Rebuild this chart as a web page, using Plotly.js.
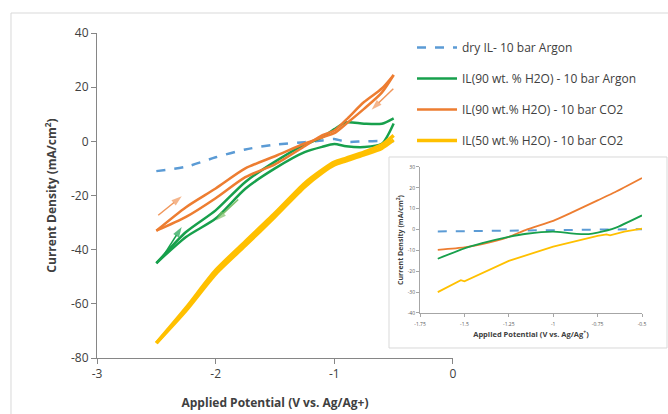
<!DOCTYPE html>
<html>
<head>
<meta charset="utf-8">
<script src="https://cdn.plot.ly/plotly-3.0.1.min.js"></script>
<style>html,body{margin:0;padding:0;background:#fff;}#chart{width:668px;height:414px;}</style>
</head>
<body>
<div id="chart"></div>
<script>
// ---- main chart data (potential grid in V vs Ag/Ag+) ----
const potential = [-2.5, -2.25, -2.0, -1.75, -1.5, -1.25, -1.1, -1.0, -0.9, -0.75, -0.6, -0.5];
const dryArgon = [-11, -9.4, -5.9, -3.0, -1.2, -0.3, 0.3, 0.9, -0.2, 0.0, 0.1, 0.0];
const h2o90ArgonFwd = [-45, -33.5, -25.5, -15, -7.5, -1.2, 1.5, 4.5, 7.0, 6.5, 6.5, 8.5];
const h2o90ArgonRev = [-45, -35.3, -28.5, -17.5, -10, -4, -2, -1, -1.8, -2.1, -0.9, 6.6];
const h2o90CO2Fwd = [-33, -24.3, -17.4, -10, -5.5, -0.8, 1.5, 3.0, 6.5, 12, 18, 24.5];
const h2o90CO2Rev = [-33, -27.9, -21, -13.2, -8.5, -1.8, 2.3, 4.0, 8.0, 14.5, 19.5, 24.5];
const h2o50CO2Fwd = [-74.5, -61.5, -47.6, -37, -26.5, -15.5, -10.5, -7.7, -6.2, -4.0, -1.3, 2.2];
const h2o50CO2Rev = [-74.5, -62.5, -49, -38.5, -27.8, -16.8, -11.5, -8.7, -7.2, -5.0, -2.6, 0.5];
const mainYTicks = [-80, -60, -40, -20, 0, 20, 40];
const mainXTicks = [-3, -2, -1, 0];

// ---- scan-direction arrows (tail -> head, data coordinates) ----
const arrowTailX = [-2.484, -0.503, -1.81, -2.427];
const arrowTailY = [-27.3, 19.4, -21.5, -41.3];
const arrowHeadX = [-2.286, -0.686, -1.998, -2.286];
const arrowHeadY = [-20.3, 11.7, -29.2, -31.6];

// ---- inset data ----
const insetDryX = [-1.65, -1.25, -1.0, -0.75, -0.5];
const insetDryY = [-0.9, -0.5, -0.3, -0.1, 0.2];
const insetGreenX = [-1.65, -1.5, -1.4, -1.25, -1.15, -1.0, -0.9, -0.8, -0.75, -0.65, -0.5];
const insetGreenY = [-14, -9, -6.5, -3.5, -2, -1, -1.8, -2.2, -1.5, 0.8, 6.8];
const insetOrangeX = [-1.65, -1.5, -1.4, -1.25, -1.15, -1.0, -0.9, -0.75, -0.65, -0.5];
const insetOrangeY = [-9.7, -8.5, -7, -3.5, 0, 4.2, 8, 14, 18, 24.7];
const insetYellowX = [-1.65, -1.55, -1.52, -1.5, -1.4, -1.25, -1.0, -0.85, -0.75, -0.7, -0.68, -0.6, -0.5];
const insetYellowY = [-30, -25.5, -24.3, -24.8, -21, -15, -8.2, -5, -3, -2.3, -2.8, -1, 0.5];
const insetYTicks = [-40, -30, -20, -10, 0, 10, 20, 30];
const insetXTicks = [-1.75, -1.5, -1.25, -1, -0.75, -0.5];

const seriesNames = ['dry IL- 10 bar Argon', 'IL(90 wt. % H2O) - 10 bar Argon', 'IL(90 wt.% H2O) - 10 bar CO2', 'IL(50 wt.% H2O) - 10 bar CO2'];

const cBlue = '#5b9bd5', cGreen = '#17a04c', cOrange = '#ed7d31', cYellow = '#ffc000';
const arrowColors = ['#f0965a', '#f0965a', '#7fbf6a', cGreen];

const sm = 0.7;
const traces = [
  {x: potential, y: dryArgon, name: seriesNames[0], legendgroup: 'a', mode: 'lines', line: {color: cBlue, width: 2.5, dash: 'dash', shape: 'spline', smoothing: sm}},
  {x: potential, y: h2o90ArgonFwd, name: seriesNames[1], legendgroup: 'b', mode: 'lines', line: {color: cGreen, width: 2.5, shape: 'spline', smoothing: sm}},
  {x: potential, y: h2o90ArgonRev, name: seriesNames[1], legendgroup: 'b', showlegend: false, mode: 'lines', line: {color: cGreen, width: 2.5, shape: 'spline', smoothing: sm}},
  {x: potential, y: h2o90CO2Fwd, name: seriesNames[2], legendgroup: 'c', mode: 'lines', line: {color: cOrange, width: 2.5, shape: 'spline', smoothing: sm}},
  {x: potential, y: h2o90CO2Rev, name: seriesNames[2], legendgroup: 'c', showlegend: false, mode: 'lines', line: {color: cOrange, width: 2.5, shape: 'spline', smoothing: sm}},
  {x: potential, y: h2o50CO2Fwd, name: seriesNames[3], legendgroup: 'd', mode: 'lines', line: {color: cYellow, width: 3.5, shape: 'spline', smoothing: sm}},
  {x: potential, y: h2o50CO2Rev, name: seriesNames[3], legendgroup: 'd', showlegend: false, mode: 'lines', line: {color: cYellow, width: 3.5, shape: 'spline', smoothing: sm}},
  {x: insetDryX, y: insetDryY, xaxis: 'x2', yaxis: 'y2', showlegend: false, mode: 'lines', line: {color: cBlue, width: 2, dash: 'dash'}},
  {x: insetOrangeX, y: insetOrangeY, xaxis: 'x2', yaxis: 'y2', showlegend: false, mode: 'lines', line: {color: cOrange, width: 1.8, shape: 'spline', smoothing: 0.5}},
  {x: insetGreenX, y: insetGreenY, xaxis: 'x2', yaxis: 'y2', showlegend: false, mode: 'lines', line: {color: cGreen, width: 1.8, shape: 'spline', smoothing: 0.5}},
  {x: insetYellowX, y: insetYellowY, xaxis: 'x2', yaxis: 'y2', showlegend: false, mode: 'lines', line: {color: cYellow, width: 1.8}}
];

arrowTailX.forEach(function (tx, i) {
  traces.push({
    x: [tx, arrowHeadX[i]], y: [arrowTailY[i], arrowHeadY[i]], mode: 'lines+markers', showlegend: false,
    line: {color: arrowColors[i], width: 1.5},
    marker: {symbol: ['circle', 'arrow'], size: [0, 11], color: arrowColors[i], angleref: 'previous', line: {width: 0}}
  });
});

const fontFam = '"Open Sans", "DejaVu Sans", sans-serif';
const txt = function (v) { return String(v); };

const layout = {
  width: 668, height: 414,
  margin: {l: 97, r: 26, t: 33, b: 56},
  paper_bgcolor: '#ffffff', plot_bgcolor: 'rgba(0,0,0,0)',
  font: {family: fontFam, color: '#404040', size: 12},
  showlegend: true,
  legend: {x: 0.578, xanchor: 'left', y: 1.0, yanchor: 'top', bgcolor: 'rgba(0,0,0,0)',
    font: {size: 12, color: '#404040'}, traceorder: 'grouped', tracegroupgap: 12, itemwidth: 40},
  xaxis: {domain: [0, 0.6532], range: [-3, 0], tickmode: 'array', tickvals: mainXTicks, ticktext: mainXTicks.map(txt),
    showgrid: false, zeroline: false,
    showline: true, linecolor: '#868686', linewidth: 1, ticks: 'outside', ticklen: 5, tickcolor: '#868686',
    tickfont: {size: 12, color: '#404040'},
    title: {text: '<b>Applied Potential (V vs. Ag/Ag+)</b>', font: {size: 12, color: '#404040'}, standoff: 17}},
  yaxis: {domain: [0, 1], range: [-80, 40], tickmode: 'array', tickvals: mainYTicks, ticktext: mainYTicks.map(txt),
    showgrid: false, zeroline: false,
    showline: true, linecolor: '#868686', linewidth: 1, ticks: 'outside', ticklen: 5, tickcolor: '#868686',
    tickfont: {size: 12, color: '#404040'},
    title: {text: '<b>Current Density (mA/cm<sup>2</sup>)</b>', font: {size: 12, color: '#404040'}, standoff: 11}},
  xaxis2: {domain: [0.5927, 1], anchor: 'y2', range: [-1.75, -0.5], tickmode: 'array', tickvals: insetXTicks, ticktext: insetXTicks.map(txt),
    showgrid: false, zeroline: false, showline: true, linecolor: '#a6a6a6', linewidth: 1,
    ticks: 'outside', ticklen: 3, tickcolor: '#a6a6a6', tickfont: {size: 5, color: '#595959'}, ticklabelstandoff: 3,
    title: {text: '<b>Applied Potential (V vs. Ag/Ag<sup>+</sup>)</b>', font: {size: 7.5, color: '#404040'}, standoff: 5}},
  yaxis2: {domain: [0.1385, 0.5877], anchor: 'x2', range: [-40, 30], tickmode: 'array', tickvals: insetYTicks, ticktext: insetYTicks.map(txt),
    showgrid: false, zeroline: false, showline: true, linecolor: '#a6a6a6', linewidth: 1,
    ticks: 'outside', ticklen: 3, tickcolor: '#a6a6a6', tickfont: {size: 5, color: '#595959'},
    title: {text: '<b>Current Density (mA/cm<sup>2</sup>)</b>', font: {size: 7, color: '#404040'}, standoff: 3}},
  shapes: [
    {type: 'rect', xref: 'paper', yref: 'paper', x0: -0.1578, x1: 1.3, y0: -0.5, y1: 1.0615,
      line: {color: '#d9d9d9', width: 1}, fillcolor: 'rgba(0,0,0,0)', layer: 'below'},
    {type: 'rect', xref: 'paper', yref: 'paper', x0: 0.5358, x1: 1.0459, y0: 0.0308, y1: 0.6185,
      line: {color: '#d9d9d9', width: 1}, fillcolor: '#ffffff', layer: 'below'}
  ]
};

Plotly.newPlot('chart', traces, layout, {displayModeBar: false, staticPlot: true});
</script>
</body>
</html>
